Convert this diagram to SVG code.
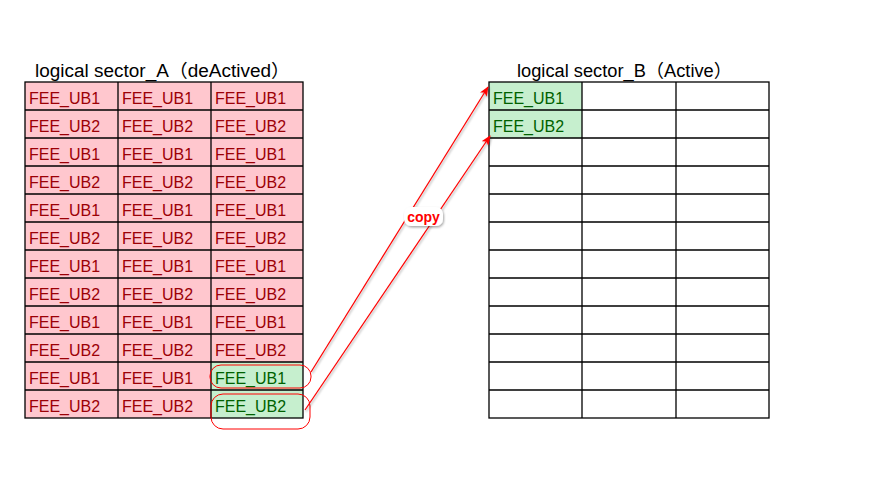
<svg xmlns="http://www.w3.org/2000/svg" width="873" height="483" viewBox="0 0 873 483">
<style>
.t{font-family:"Liberation Sans","Noto Sans CJK SC",sans-serif;font-size:18px;fill:#000}
.c{font-family:"Liberation Sans",sans-serif;font-size:16px}
.r{fill:#9c0006}.g{fill:#006100}
.pk{fill:#ffc7ce}.gr{fill:#c6efce}
.ln{stroke:#000;stroke-width:1.3;fill:none}
.ar{stroke:#ff0000;stroke-width:1.2;fill:none}
.ov{stroke:#ff0000;stroke-width:1;fill:none}
</style>
<defs>
<marker id="ah" markerWidth="10" markerHeight="8" refX="9" refY="4" orient="auto" markerUnits="userSpaceOnUse">
<path d="M0,0 L10,4 L0,8 L2.5,4 Z" fill="#ff0000"/>
</marker>
<filter id="sh" x="-20%" y="-20%" width="140%" height="140%">
<feDropShadow dx="1" dy="1.5" stdDeviation="1.2" flood-color="#000" flood-opacity="0.35"/>
</filter>
</defs>
<rect width="873" height="483" fill="#fff"/>
<g id="sectorA">
<text class="t" x="35" y="77" textLength="255" lengthAdjust="spacingAndGlyphs">logical sector_A（deActived）</text>
<rect class="pk" x="25" y="82" width="278" height="336"/>
<rect class="gr" x="211" y="362" width="92" height="56"/>
<g class="ln">
<rect x="25" y="82" width="278" height="336"/>
<path d="M118,82V418M211,82V418M25,110H303M25,138H303M25,166H303M25,194H303M25,222H303M25,250H303M25,278H303M25,306H303M25,334H303M25,362H303M25,390H303"/>
</g>
<g class="c r">
<text x="29" y="104">FEE_UB1</text><text x="122" y="104">FEE_UB1</text><text x="215" y="104">FEE_UB1</text>
<text x="29" y="132">FEE_UB2</text><text x="122" y="132">FEE_UB2</text><text x="215" y="132">FEE_UB2</text>
<text x="29" y="160">FEE_UB1</text><text x="122" y="160">FEE_UB1</text><text x="215" y="160">FEE_UB1</text>
<text x="29" y="188">FEE_UB2</text><text x="122" y="188">FEE_UB2</text><text x="215" y="188">FEE_UB2</text>
<text x="29" y="216">FEE_UB1</text><text x="122" y="216">FEE_UB1</text><text x="215" y="216">FEE_UB1</text>
<text x="29" y="244">FEE_UB2</text><text x="122" y="244">FEE_UB2</text><text x="215" y="244">FEE_UB2</text>
<text x="29" y="272">FEE_UB1</text><text x="122" y="272">FEE_UB1</text><text x="215" y="272">FEE_UB1</text>
<text x="29" y="300">FEE_UB2</text><text x="122" y="300">FEE_UB2</text><text x="215" y="300">FEE_UB2</text>
<text x="29" y="328">FEE_UB1</text><text x="122" y="328">FEE_UB1</text><text x="215" y="328">FEE_UB1</text>
<text x="29" y="356">FEE_UB2</text><text x="122" y="356">FEE_UB2</text><text x="215" y="356">FEE_UB2</text>
<text x="29" y="384">FEE_UB1</text><text x="122" y="384">FEE_UB1</text>
<text x="29" y="412">FEE_UB2</text><text x="122" y="412">FEE_UB2</text>
</g>
<g class="c g">
<text x="215" y="384">FEE_UB1</text>
<text x="215" y="412">FEE_UB2</text>
</g>
</g>
<g id="sectorB">
<text class="t" x="517" y="77" textLength="215" lengthAdjust="spacingAndGlyphs">logical sector_B（Active）</text>
<rect class="gr" x="489" y="82" width="93" height="56"/>
<g class="ln">
<rect x="489" y="82" width="280" height="336"/>
<path d="M582,82V418M676,82V418M489,110H769M489,138H769M489,166H769M489,194H769M489,222H769M489,250H769M489,278H769M489,306H769M489,334H769M489,362H769M489,390H769"/>
</g>
<g class="c g">
<text x="493" y="104">FEE_UB1</text>
<text x="493" y="132">FEE_UB2</text>
</g>
</g>
<g id="highlights">
<rect class="ov" x="210" y="365" width="101" height="23" rx="11"/>
<rect class="ov" x="211" y="394" width="99" height="35" rx="12"/>
</g>
<g id="connectors" filter="url(#sh)">
<line class="ar" x1="311" y1="372" x2="488" y2="87" marker-end="url(#ah)"/>
<line class="ar" x1="305" y1="410" x2="490" y2="136" marker-end="url(#ah)"/>
</g>
<g id="copyLabel">
<rect x="404" y="207" width="39" height="19" rx="7" fill="#fff" filter="url(#sh)"/>
<text x="423.5" y="222" text-anchor="middle" font-family="Liberation Sans,sans-serif" font-size="14" font-weight="bold" fill="#ff0000">copy</text>
</g>
</svg>
